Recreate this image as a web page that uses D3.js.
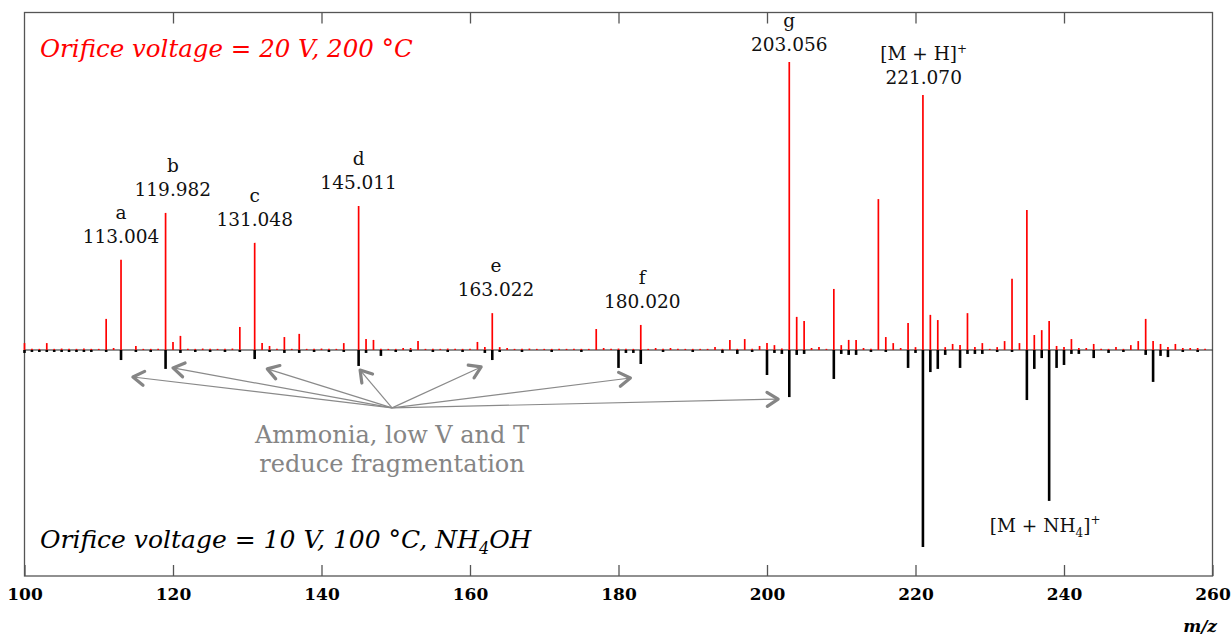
<!DOCTYPE html>
<html>
<head>
<meta charset="utf-8">
<script src="https://cdn.jsdelivr.net/npm/d3@7"></script>
<style>
  body { margin: 0; background: #fff; }
  svg { display: block; }
</style>
</head>
<body>
<script>
////////////////////
//     DATA      ///
////////////////////

// upper trace: orifice 20 V, 200 C  (m/z, % of base peak 203)
var redMz = [100,101,102,103,104,105,106,107,108,109,110,111,112,113,115,116,117,118,119,120,121,122,123,124,125,126,127,128,129,131,132,133,134,135,136,137,138,139,140,141,142,143,145,146,147,148,149,150,151,152,153,154,155,156,157,158,159,160,161,162,163,164,165,166,167,168,169,170,171,172,173,174,175,176,177,178,179,180,181,182,183,184,185,186,187,188,189,190,191,192,193,194,195,196,197,198,199,200,201,202,203,204,205,206,207,208,209,210,211,212,213,214,215,216,217,218,219,220,221,222,223,224,225,226,227,228,229,230,231,232,233,234,235,236,237,238,239,240,241,242,243,244,245,246,247,248,249,250,251,252,253,254,255,256,257,258,259];
var redInt = [2.4,0.4,0.4,2.4,0.4,0.5,0.4,0.4,0.5,0.4,0.4,10.8,0.7,31.3,1.4,0.4,0.4,0.4,47.6,2.8,4.9,0.4,0.4,0.5,0.4,0.4,0.4,0.5,8.0,37.2,2.4,1.4,0.4,4.5,0.4,5.6,0.4,0.4,0.5,0.4,0.4,2.4,50.0,3.8,3.5,0.4,0.4,0.4,0.7,0.7,3.1,0.4,0.4,0.4,0.5,0.4,0.4,0.4,2.8,1.0,12.8,1.0,0.7,0.4,0.4,0.5,0.4,0.4,0.4,0.4,0.4,0.4,0.4,0.4,7.3,0.7,0.4,0.5,0.4,0.4,8.7,0.4,0.7,0.4,0.7,0.4,0.4,0.4,0.4,0.4,1.0,0.4,3.5,0.4,3.8,0.4,1.4,2.4,1.7,0.5,100,11.5,10.1,0.7,1.0,0.4,21.2,1.7,3.5,3.5,0.7,0.4,52.4,4.5,2.4,0.7,9.4,1.0,88.5,12.2,10.4,1.0,2.1,1.7,12.8,1.0,2.4,0.4,1.0,3.1,24.7,2.4,48.6,5.2,6.9,10.1,1.4,1.0,3.8,0.7,0.7,2.1,0.4,0.4,1.0,0.4,1.7,3.1,10.8,3.1,2.1,1.0,2.1,0.7,0.7,0.7,0.4];

// lower trace: orifice 10 V, 100 C, NH4OH  (m/z, % of base peak 221)
var blackMz = [100,101,102,103,104,105,106,107,108,109,111,113,115,117,119,121,123,125,127,129,131,133,135,137,139,141,143,145,146,148,150,152,155,157,159,162,163,164,167,171,175,180,181,182,183,186,190,194,196,198,200,201,202,203,204,205,209,210,211,212,214,216,219,220,221,222,223,224,226,227,228,229,231,233,235,236,237,238,239,240,241,242,244,246,248,251,252,253,254,256,258];
var blackInt = [1.5,1.0,1.0,1.0,1.0,1.0,1.0,1.0,1.0,1.0,1.0,5.1,1.0,1.0,9.6,1.5,1.0,1.0,1.0,1.0,4.6,1.0,1.5,1.5,1.0,1.0,1.0,8.1,1.5,3.0,1.0,1.0,1.0,1.0,1.0,1.5,5.1,1.0,1.0,1.0,1.0,9.1,1.5,1.5,7.1,1.0,1.0,1.5,2.0,1.0,12.7,1.5,2.0,23.9,2.5,2.0,14.7,2.0,2.5,2.5,1.0,1.0,9.1,1.5,100,11.2,9.6,2.5,9.1,2.0,2.0,2.0,1.0,1.0,25.4,9.6,4.1,76.6,9.1,7.6,2.0,2.0,4.1,1.5,1.0,2.5,16.2,3.0,3.6,1.0,1.0];

// fragment labels on the upper trace
var labelMz   = [113, 119.98, 131, 145, 163.5, 183.2, 203, 221.1];
var labelPeak = [113, 119, 131, 145, 163, 183, 203, 221];
var labelName = ["a", "b", "c", "d", "e", "f", "g", "[M + H]"];
var labelVal  = ["113.004", "119.982", "131.048", "145.011", "163.022", "180.020", "203.056", "221.070"];

// arrows: origin and targets in (m/z, % of lower trace)
var arrowFrom = [149.5, 29.4];
var arrowTo = [[114.6, 13.7], [120.0, 9.1], [132.7, 9.6], [145.2, 10.2], [161.5, 8.6], [181.6, 14.2], [201.5, 24.9]];

var xTicks = [100, 120, 140, 160, 180, 200, 220, 240, 260];

////////////////////
//    OPTIONS    ///
////////////////////
var w = 1231, h = 637;
var frame = {left: 24.5, right: 1212.5, top: 12.5, bottom: 576};
var base = 350;
var serif = "'DejaVu Serif', serif";

var x = d3.scaleLinear().domain([100, 260]).range([frame.left, frame.right]);
var yUp = d3.scaleLinear().domain([0, 100]).range([base, 62]);
var yDn = d3.scaleLinear().domain([0, 100]).range([base, 547]);

var svg = d3.select("body").append("svg")
    .attr("width", w)
    .attr("height", h);

svg.append("rect").attr("width", w).attr("height", h).attr("fill", "#fff");

//arrow head
svg.append("defs").append("marker")
    .attr("id", "chev")
    .attr("markerUnits", "userSpaceOnUse")
    .attr("viewBox", "-14 -10 18 20")
    .attr("refX", 0).attr("refY", 0)
    .attr("markerWidth", 18).attr("markerHeight", 20)
    .attr("orient", "auto")
  .append("path")
    .attr("d", "M-11,-7L0,0L-11,7")
    .attr("fill", "none")
    .attr("stroke", "#858585")
    .attr("stroke-width", 3.2)
    .attr("stroke-linecap", "round")
    .attr("stroke-linejoin", "round");

//frame and ticks
svg.append("rect")
    .attr("x", frame.left).attr("y", frame.top)
    .attr("width", frame.right - frame.left)
    .attr("height", frame.bottom - frame.top)
    .attr("fill", "none")
    .attr("stroke", "#555")
    .attr("stroke-width", 1.3);

var xAxisB = d3.axisBottom(x).tickValues(xTicks).tickSize(-11).tickPadding(12).tickFormat(d3.format("d"));
var gB = svg.append("g").attr("transform", "translate(0," + frame.bottom + ")").call(xAxisB);
gB.select(".domain").remove();
gB.selectAll(".tick line").attr("stroke", "#555").attr("stroke-width", 1.3);
gB.selectAll(".tick text")
    .attr("fill", "#000")
    .style("font-family", serif)
    .style("font-weight", "bold")
    .style("font-size", "17px");

var xAxisT = d3.axisTop(x).tickValues(xTicks.slice(1, -1)).tickSize(-11).tickFormat("");
var gT = svg.append("g").attr("transform", "translate(0," + frame.top + ")").call(xAxisT);
gT.select(".domain").remove();
gT.selectAll(".tick line").attr("stroke", "#555").attr("stroke-width", 1.3);

svg.append("text")
    .attr("x", 1217).attr("y", 632)
    .attr("text-anchor", "end")
    .style("font-family", serif)
    .style("font-weight", "bold")
    .style("font-style", "italic")
    .style("font-size", "17px")
    .text("m/z");

//baseline
svg.append("line")
    .attr("x1", frame.left).attr("x2", frame.right)
    .attr("y1", base).attr("y2", base)
    .attr("stroke", "#222")
    .attr("stroke-width", 1);

//spectra
var red = redMz.map(function(m, i) { return {mz: m, v: redInt[i]}; });
var blk = blackMz.map(function(m, i) { return {mz: m, v: blackInt[i]}; });

svg.append("g").selectAll("line").data(red).enter().append("line")
    .attr("x1", function(d) { return x(d.mz); })
    .attr("x2", function(d) { return x(d.mz); })
    .attr("y1", yUp(0))
    .attr("y2", function(d) { return yUp(d.v); })
    .attr("stroke", "#ff0000")
    .attr("stroke-width", 1.7);

svg.append("g").selectAll("line").data(blk).enter().append("line")
    .attr("x1", function(d) { return x(d.mz); })
    .attr("x2", function(d) { return x(d.mz); })
    .attr("y1", yDn(0))
    .attr("y2", function(d) { return yDn(d.v); })
    .attr("stroke", "#000")
    .attr("stroke-width", 2.6);

//peak labels
var lift = [17, 17, 17, 17, 17, 17, 11, 11];
labelMz.forEach(function(m, i) {
  var top = yUp(redInt[redMz.indexOf(labelPeak[i])]) - lift[i];
  var t = svg.append("text")
      .attr("x", x(m))
      .attr("text-anchor", "middle")
      .style("font-family", serif)
      .style("font-size", "18.5px")
      .attr("fill", "#111");
  t.append("tspan").attr("x", x(m)).attr("y", top).text(labelVal[i]);
  var n = svg.append("text")
      .attr("x", x(m)).attr("y", top - 24)
      .attr("text-anchor", "middle")
      .style("font-family", serif)
      .style("font-size", "18.5px")
      .attr("fill", "#111")
      .text(labelName[i]);
  if (labelName[i].charAt(0) == "[") {
    n.append("tspan").attr("dy", -7).style("font-size", "12px").text("+");
  }
});

//adduct label under the lower trace
var nh = svg.append("text")
    .attr("x", x(238) - 4)
    .attr("y", yDn(blackInt[blackMz.indexOf(238)]) + 31)
    .attr("text-anchor", "middle")
    .style("font-family", serif)
    .style("font-size", "18.5px")
    .attr("fill", "#111");
nh.append("tspan").text("[M + NH");
nh.append("tspan").attr("dy", 5).style("font-size", "12px").text("4");
nh.append("tspan").attr("dy", -5).text("]");
nh.append("tspan").attr("dy", -8).style("font-size", "12px").text("+");

//arrows
svg.append("g").selectAll("line").data(arrowTo).enter().append("line")
    .attr("x1", x(arrowFrom[0]))
    .attr("y1", yDn(arrowFrom[1]))
    .attr("x2", function(d) { return x(d[0]); })
    .attr("y2", function(d) { return yDn(d[1]); })
    .attr("stroke", "#8a8a8a")
    .attr("stroke-width", 1.2)
    .attr("marker-end", "url(#chev)");

var note = svg.append("text")
    .attr("text-anchor", "middle")
    .style("font-family", serif)
    .style("font-size", "24px")
    .attr("fill", "#858585");
note.append("tspan").attr("x", x(arrowFrom[0])).attr("y", 443).text("Ammonia, low V and T");
note.append("tspan").attr("x", x(arrowFrom[0])).attr("y", 472).text("reduce fragmentation");

//condition titles
svg.append("text")
    .attr("x", 40).attr("y", 57)
    .style("font-family", serif)
    .style("font-style", "italic")
    .style("font-size", "24.5px")
    .attr("fill", "#ff0000")
    .text("Orifice voltage = 20 V, 200 °C");

var t2 = svg.append("text")
    .attr("x", 40).attr("y", 548)
    .style("font-family", serif)
    .style("font-style", "italic")
    .style("font-size", "25px")
    .attr("fill", "#000");
t2.append("tspan").text("Orifice voltage = 10 V, 100 °C, NH");
t2.append("tspan").attr("dy", 6).style("font-size", "16px").text("4");
t2.append("tspan").attr("dy", -6).text("OH");
</script>
</body>
</html>
